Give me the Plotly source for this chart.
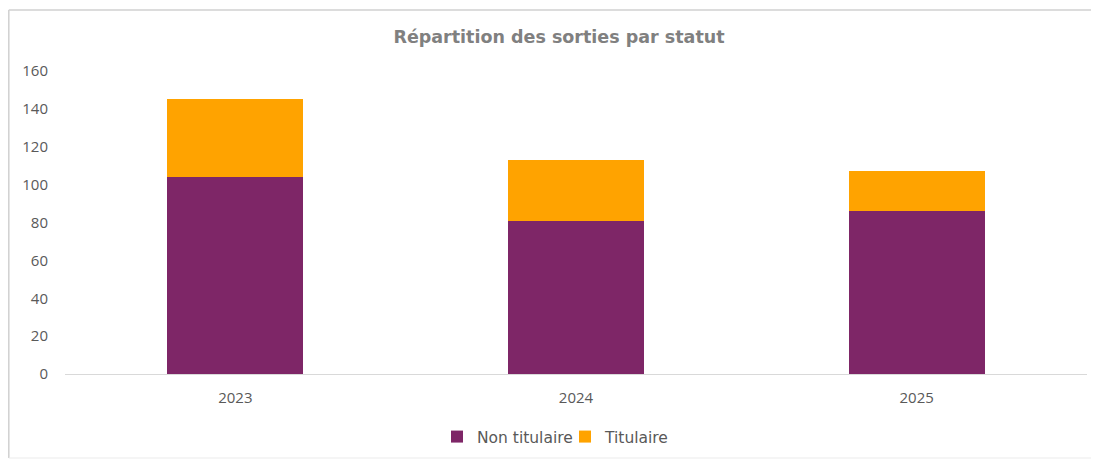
import plotly.graph_objects as go

years = ["2023", "2024", "2025"]
non_titulaire = [104, 81, 86]
titulaire = [41, 32, 21]
y_ticks = [0, 20, 40, 60, 80, 100, 120, 140, 160]

W, H = 1099, 459
OFF = 8  # page body margin offsets the figure by 8px
L, T = 65 - OFF, 71 - OFF
plot_right, plot_bottom = 1087 - OFF, 374 - OFF
R, B = W - plot_right, H - plot_bottom
pw, ph = plot_right - L, plot_bottom - T


def px_x(p):
    return (p - OFF - L) / pw


def px_y(p):
    return (plot_bottom - (p - OFF)) / ph


fig = go.Figure()
fig.add_trace(go.Bar(x=years, y=non_titulaire, name="Non titulaire",
                     marker=dict(color="#7E2667", line=dict(width=0))))
fig.add_trace(go.Bar(x=years, y=titulaire, name="Titulaire",
                     marker=dict(color="#FFA300", line=dict(width=0))))

border = dict(color="#D0D0D0", width=1.5)
fig.update_layout(
    width=W, height=H,
    barmode="stack", bargap=0.6,
    margin=dict(l=L, r=R, t=T, b=B),
    paper_bgcolor="white", plot_bgcolor="white",
    title=dict(text="<b>Répartition des sorties par statut</b>",
               font=dict(family="DejaVu Sans", size=17.5, color="#808080"),
               x=(559 - OFF) / W, xref="container", xanchor="center",
               y=1 - (37 - OFF) / H, yref="container", yanchor="middle"),
    legend=dict(orientation="h", xref="container", yref="container",
                x=(437 - OFF) / W, xanchor="left",
                y=1 - (437 - OFF) / H, yanchor="middle",
                entrywidth=83,
                font=dict(family="DejaVu Sans", size=15.5, color="#595959"),
                traceorder="normal", itemclick=False),
    xaxis=dict(showline=True, linecolor="#D9D9D9", linewidth=1,
               showgrid=False, ticks="", ticklabelstandoff=10,
               tickfont=dict(family="Open Sans", size=15, color="#595959")),
    yaxis=dict(range=[0, 160], tickvals=y_ticks, showgrid=False,
               zeroline=False, showline=False, ticks="",
               ticklabelstandoff=16,
               tickfont=dict(family="Open Sans", size=15, color="#595959")),
    shapes=[
        dict(type="line", xref="paper", yref="paper",
             x0=px_x(8.8), x1=px_x(8.8), y0=px_y(458), y1=px_y(10),
             line=border, layer="below"),
        dict(type="line", xref="paper", yref="paper",
             x0=px_x(8.8), x1=px_x(1130), y0=px_y(10), y1=px_y(10),
             line=border, layer="below"),
        dict(type="line", xref="paper", yref="paper",
             x0=px_x(8.8), x1=px_x(1130), y0=px_y(458), y1=px_y(458),
             line=dict(color="#EBEBEB", width=1), layer="below"),
    ],
)

fig.write_html("out.html")
